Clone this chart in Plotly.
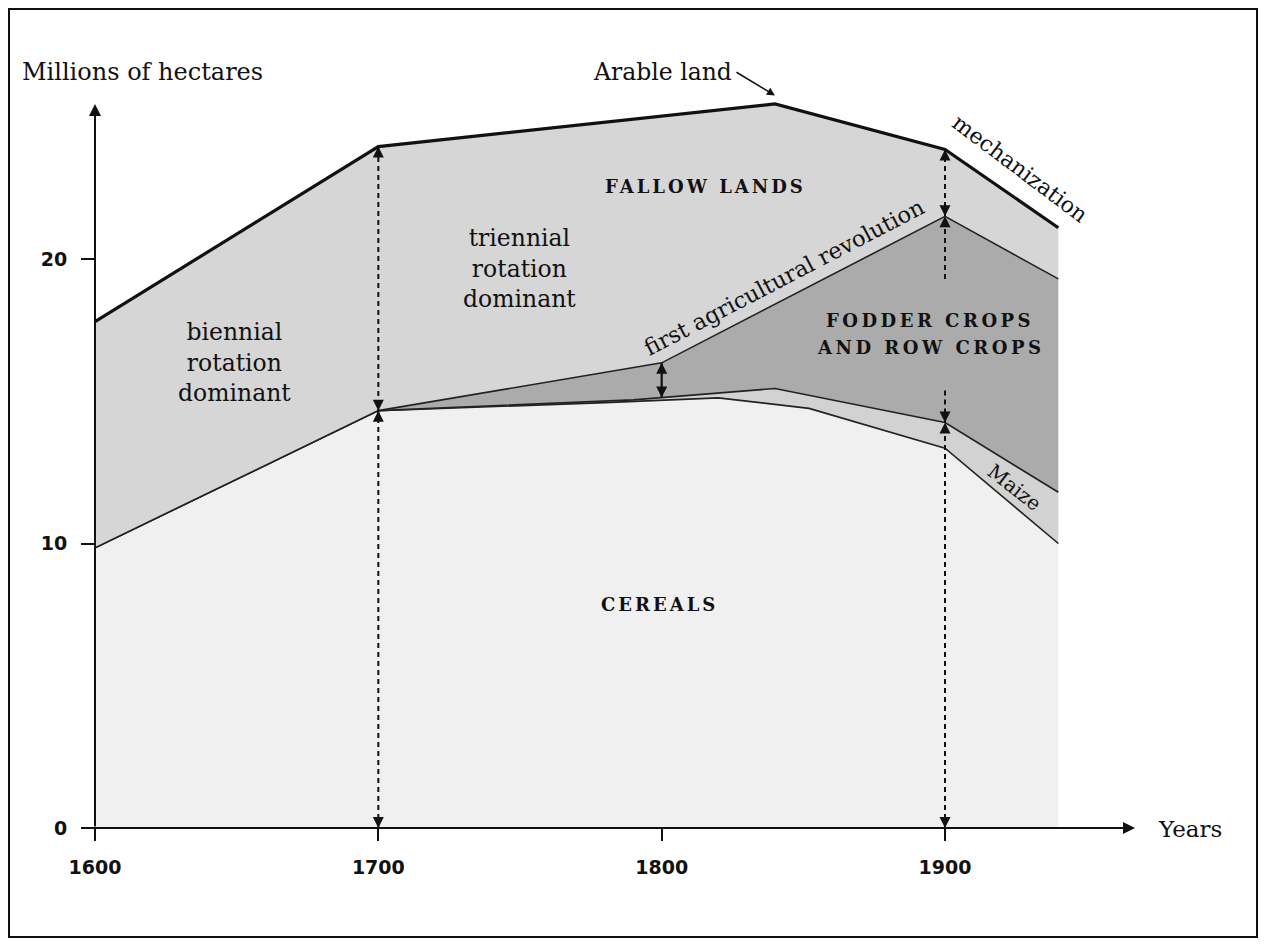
import plotly.graph_objects as go

# ---------------- data (millions of hectares) ----------------
years_cereals = [1600, 1700, 1780, 1820, 1852, 1900, 1940]
cereals = [9.85, 14.67, 14.95, 15.12, 14.75, 13.35, 10.0]

years_maize = [1600, 1700, 1790, 1840, 1900, 1940]
maize_top = [9.85, 14.67, 15.05, 15.45, 14.25, 11.8]

years_fodder = [1600, 1700, 1800, 1900, 1940]
fodder_top = [9.85, 14.67, 16.35, 21.5, 19.3]

years_arable = [1600, 1700, 1840, 1900, 1940]
arable = [17.8, 23.95, 25.45, 23.85, 21.1]

x_ticks = [1600, 1700, 1800, 1900]
y_ticks = [0, 10, 20]

# ---------------- geometry helpers (screen pixels) ----------------
OFF = 8  # page body margin
W, H = 1266 - 2 * OFF + 0, 946 - 2 * OFF
L_PX, R_PX, T_PX, B_PX = 95, 1143, 88, 828
PX_PER_YR = 850 / 300
PX_PER_U = (828 - 259) / 20
X_MAX = 1600 + (R_PX - L_PX) / PX_PER_YR
Y_MAX = (B_PX - T_PX) / PX_PER_U


def xv(px):
    return 1600 + (px - L_PX) / PX_PER_YR


def yv(py):
    return (B_PX - py) / PX_PER_U


def xp(px):
    return (px - L_PX) / (R_PX - L_PX)


def yp(py):
    return (B_PX - py) / (B_PX - T_PX)


SERIF = "DejaVu Serif"
INK = "#111111"

fig = go.Figure()

fig.add_trace(go.Scatter(x=years_cereals, y=cereals, mode="lines", fill="tozeroy",
                         fillcolor="#f0f0f0", line=dict(color="#222", width=1.6),
                         hoverinfo="skip"))
fig.add_trace(go.Scatter(x=years_maize, y=maize_top, mode="lines", fill="tonexty",
                         fillcolor="#d2d2d2", line=dict(color="#222", width=1.6),
                         hoverinfo="skip"))
fig.add_trace(go.Scatter(x=years_fodder, y=fodder_top, mode="lines", fill="tonexty",
                         fillcolor="#ababab", line=dict(color="#222", width=1.6),
                         hoverinfo="skip"))
fig.add_trace(go.Scatter(x=years_arable, y=arable, mode="lines", fill="tonexty",
                         fillcolor="#d6d6d6", line=dict(color="#111", width=3.2),
                         hoverinfo="skip"))


def val_at(xs, ys, x):
    for i in range(len(xs) - 1):
        if xs[i] <= x <= xs[i + 1]:
            t = (x - xs[i]) / (xs[i + 1] - xs[i])
            return ys[i] + t * (ys[i + 1] - ys[i])
    return ys[-1]


# dashed vertical guides
a1700 = val_at(years_arable, arable, 1700)
c1700 = val_at(years_cereals, cereals, 1700)
a1900 = val_at(years_arable, arable, 1900)
f1900 = val_at(years_fodder, fodder_top, 1900)
m1900 = val_at(years_maize, maize_top, 1900)
f1800 = val_at(years_fodder, fodder_top, 1800)
m1800 = val_at(years_maize, maize_top, 1800)

dash_segments = [
    (1700, 0, a1700),
    (1900, 0, m1900),
    (1900, f1900 - 2.2, a1900),
    (1900, m1900, m1900 + 1.25),
]
for x, y0, y1 in dash_segments:
    fig.add_trace(go.Scatter(x=[x, x], y=[y0, y1], mode="lines",
                             line=dict(color=INK, width=2, dash="5px,4px"),
                             hoverinfo="skip"))
# short solid arrow at 1800
fig.add_trace(go.Scatter(x=[1800, 1800], y=[m1800, f1800], mode="lines",
                         line=dict(color=INK, width=2.2), hoverinfo="skip"))

annotations = []


def head(x, y, up):
    annotations.append(dict(x=x, y=y, xref="x", yref="y", ax=0, ay=(12 if up else -12),
                            text="", showarrow=True, arrowhead=2, arrowsize=1.1,
                            arrowwidth=2, arrowcolor=INK, standoff=0))


head(1700, a1700, True)
head(1700, c1700, False)
head(1700, c1700, True)
head(1700, 0, False)
head(1800, f1800, True)
head(1800, m1800, False)
head(1900, a1900, True)
head(1900, f1900, False)
head(1900, f1900, True)
head(1900, m1900, False)
head(1900, m1900, True)
head(1900, 0, False)

# axes arrows
annotations.append(dict(x=1600, y=yv(104), ax=1600, ay=0, xref="x", yref="y",
                        axref="x", ayref="y", text="", showarrow=True, arrowhead=2,
                        arrowsize=1.2, arrowwidth=2, arrowcolor=INK, standoff=0))
annotations.append(dict(x=xv(1135), y=0, ax=xv(82), ay=0, xref="x", yref="y",
                        axref="x", ayref="y", text="", showarrow=True, arrowhead=2,
                        arrowsize=1.2, arrowwidth=2, arrowcolor=INK, standoff=0))

# Arable land pointer
annotations.append(dict(x=1840, y=val_at(years_arable, arable, 1840) + 0.3, xref="x", yref="y",
                        ax=-40, ay=-24, text="", showarrow=True, arrowhead=2,
                        arrowsize=1.0, arrowwidth=1.6, arrowcolor=INK, standoff=0))


def label(text, px, py, size=23, angle=0, bold=False, anchor="center", spacing=None):
    t = text
    if spacing is not None:
        t = "<span style='letter-spacing:%.1fpx'>%s</span>" % (spacing, t)
    if bold:
        t = "<b>" + t + "</b>"
    annotations.append(dict(x=xp(px), y=yp(py), xref="paper", yref="paper", text=t,
                            showarrow=False, textangle=angle, xanchor=anchor,
                            yanchor="middle", align="center",
                            font=dict(family=SERIF, size=size, color=INK)))


label("Millions of hectares", 20, 72, size=24, anchor="left")
label("Arable land", 662, 72, size=23.5)
label("Years", 1156, 829, size=23, anchor="left")
label("mechanization", 1020, 168, size=22, angle=37)
label("FALLOW LANDS", 705, 187, size=18, bold=True, spacing=3)
label("triennial<br>rotation<br>dominant", 519, 268, size=23.5)
label("biennial<br>rotation<br>dominant", 234, 362, size=23.5)
label("first agricultural revolution", 784, 277, size=22.5, angle=-27.5)
label("FODDER CROPS", 930, 320, size=18, bold=True, spacing=3.5)
label("AND ROW CROPS", 930, 347, size=18, bold=True, spacing=3.5)
label("Maize", 1014, 487, size=20, angle=38)
label("CEREALS", 659, 604, size=18, bold=True, spacing=3)

shapes = [dict(type="rect", xref="paper", yref="paper", x0=xp(9), x1=xp(1257),
               y0=yp(937), y1=yp(9), line=dict(color=INK, width=2), layer="above")]

fig.update_layout(
    width=W, height=H,
    margin=dict(l=L_PX - OFF, r=W - (R_PX - OFF), t=T_PX - OFF, b=H - (B_PX - OFF),
                autoexpand=False),
    paper_bgcolor="white", plot_bgcolor="white",
    showlegend=False,
    annotations=annotations,
    shapes=shapes,
    xaxis=dict(range=[1600, X_MAX], tickvals=x_ticks, ticktext=[str(v) for v in x_ticks],
               showgrid=False, zeroline=False, showline=False, ticks="outside",
               ticklen=12, tickwidth=2, tickcolor=INK, ticklabelstandoff=10,
               tickfont=dict(family="DejaVu Sans", size=19, color=INK, weight="bold"),
               fixedrange=True),
    yaxis=dict(range=[0, Y_MAX], tickvals=y_ticks, ticktext=[str(v) for v in y_ticks],
               showgrid=False, zeroline=False, showline=False, ticks="outside",
               ticklen=13, tickwidth=2, tickcolor=INK, ticklabelstandoff=10,
               tickfont=dict(family="DejaVu Sans", size=19, color=INK, weight="bold"),
               fixedrange=True),
)

fig.write_html("out.html")
